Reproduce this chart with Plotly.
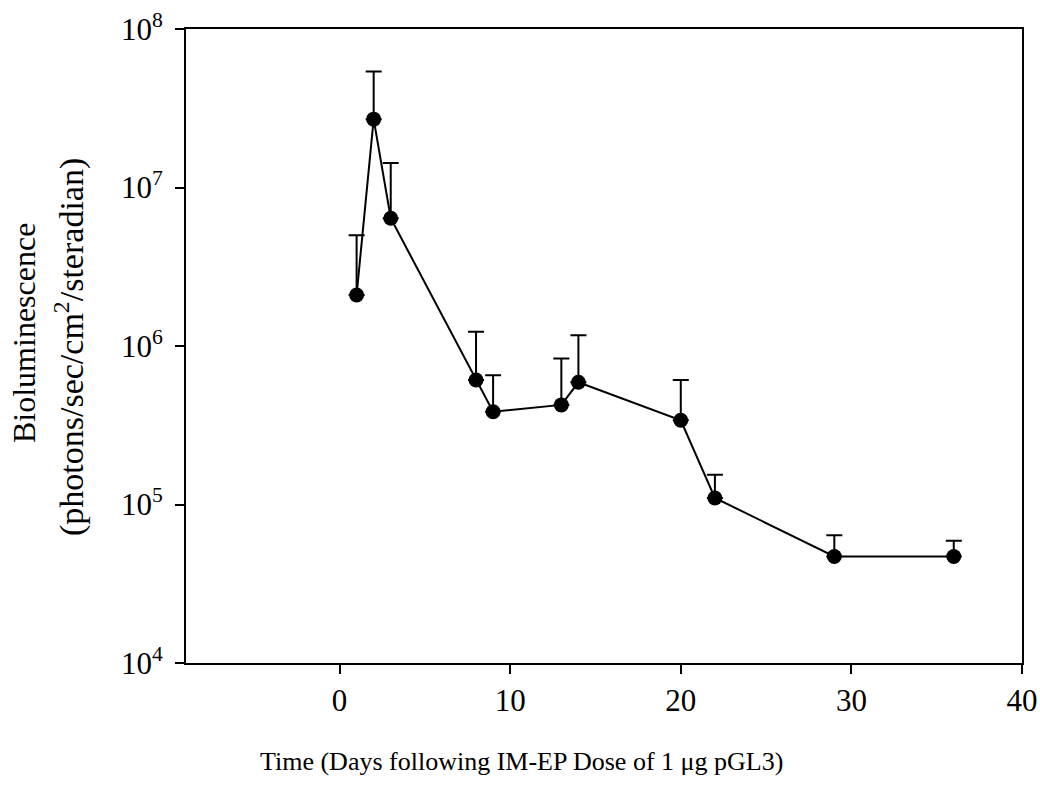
import plotly.graph_objects as go

# Days after the IM-EP dose
days = [1, 2, 3, 8, 9, 13, 14, 20, 22, 29, 36]
# Mean bioluminescence (photons/sec/cm^2/steradian)
mean_signal = [2.1e6, 2.7e7, 6.4e6, 6.1e5, 3.85e5, 4.25e5, 5.9e5, 3.4e5, 1.1e5, 4.7e4, 4.7e4]
# Upper error (SD) for each time point
sd_signal = [2.9e6, 2.7e7, 7.9e6, 6.2e5, 2.7e5, 4.1e5, 5.8e5, 2.7e5, 4.4e4, 1.7e4, 1.2e4]

y_tick_vals = [1e4, 1e5, 1e6, 1e7, 1e8]
y_tick_text = ["10<sup>4</sup>", "10<sup>5</sup>", "10<sup>6</sup>", "10<sup>7</sup>", "10<sup>8</sup>"]
x_tick_vals = [0, 10, 20, 30, 40]

FONT = "Liberation Serif, Times New Roman, serif"
W, H = 1040, 793
L, R, T, B = 186, 18, 29, 130

fig = go.Figure()
fig.add_trace(go.Scatter(
    x=days,
    y=mean_signal,
    mode="lines+markers",
    line=dict(color="black", width=2),
    marker=dict(color="black", size=15),
    error_y=dict(
        type="data",
        symmetric=False,
        array=sd_signal,
        arrayminus=[0] * len(sd_signal),
        color="black",
        thickness=2,
        width=8,
    ),
    showlegend=False,
))

axis_common = dict(
    showline=True,
    linecolor="black",
    linewidth=2,
    mirror=True,
    ticks="outside",
    ticklen=9,
    tickwidth=2,
    tickcolor="black",
    showgrid=False,
    zeroline=False,
    tickfont=dict(family=FONT, size=31, color="black"),
)

fig.update_xaxes(
    range=[-9, 40],
    tickmode="array",
    tickvals=x_tick_vals,
    ticktext=[str(v) for v in x_tick_vals],
    **axis_common,
)
fig.update_yaxes(
    type="log",
    range=[4, 8],
    tickmode="array",
    tickvals=y_tick_vals,
    ticktext=y_tick_text,
    ticklabelstandoff=6,
    **axis_common,
)

pw = W - L - R
ph = H - T - B


def px_x(px):
    return (px - L) / pw


def px_y(py):
    return (H - B - py) / ph


# x-axis title, centred on the page
fig.add_annotation(
    text="Time (Days following IM-EP Dose of 1 \u03bcg pGL3)",
    xref="paper", yref="paper",
    x=px_x(521), y=px_y(761),
    xanchor="center", yanchor="middle",
    showarrow=False,
    font=dict(family=FONT, size=26, color="black"),
)
# two-line y-axis title
fig.add_annotation(
    text="Bioluminescence",
    xref="paper", yref="paper",
    x=px_x(24), y=px_y(333),
    xanchor="center", yanchor="middle",
    textangle=-90, showarrow=False,
    font=dict(family=FONT, size=32, color="black"),
)
fig.add_annotation(
    text="(photons/sec/cm<sup>2</sup>/steradian)",
    xref="paper", yref="paper",
    x=px_x(69), y=px_y(347),
    xanchor="center", yanchor="middle",
    textangle=-90, showarrow=False,
    font=dict(family=FONT, size=34, color="black"),
)

fig.update_layout(
    width=W,
    height=H,
    margin=dict(l=L, r=R, t=T, b=B, autoexpand=False),
    paper_bgcolor="white",
    plot_bgcolor="white",
    font=dict(family=FONT, color="black"),
)

fig.write_html("out.html")
